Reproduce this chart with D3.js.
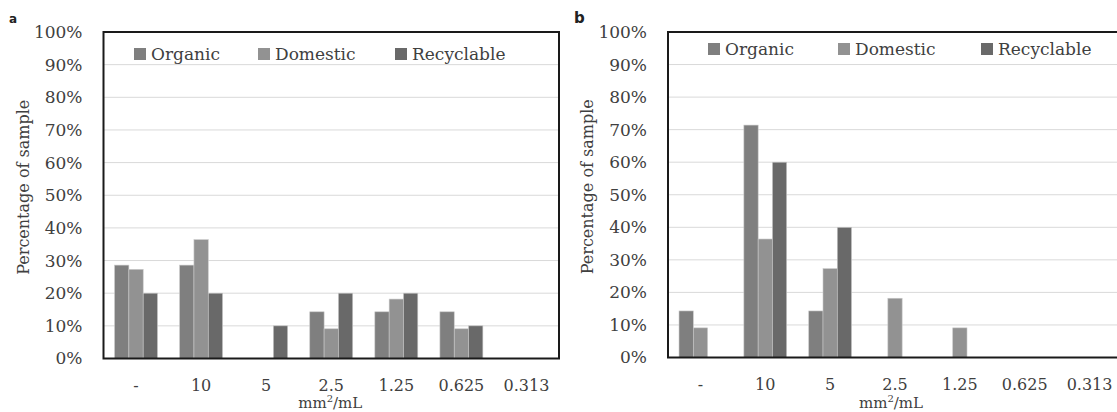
<!DOCTYPE html>
<html>
<head>
<meta charset="utf-8">
<script src="https://cdn.jsdelivr.net/npm/d3@7"></script>
<style>
  body { margin: 0; background: #fff; }
</style>
</head>
<body>
<div id="chart"></div>
<script>
const categories = ['-', '10', '5', '2.5', '1.25', '0.625', '0.313'];
const seriesNames = ['Organic', 'Domestic', 'Recyclable'];
const yTicks = [0, 10, 20, 30, 40, 50, 60, 70, 80, 90, 100];

// panel a
const organicA = [28.6, 28.6, 0, 14.3, 14.3, 14.3, 0];
const domesticA = [27.3, 36.4, 0, 9.1, 18.2, 9.1, 0];
const recyclableA = [20, 20, 10, 20, 20, 10, 0];

// panel b
const organicB = [14.3, 71.4, 14.3, 0, 0, 0, 0];
const domesticB = [9.1, 36.4, 27.3, 18.2, 9.1, 0, 0];
const recyclableB = [0, 60, 40, 0, 0, 0, 0];

const colors = ['#7f7f7f', '#929292', '#696969'];
const FONT = "'DejaVu Serif', 'Liberation Serif', serif";

const W = 1117, H = 412;
const svg = d3.select('#chart').append('svg')
  .attr('width', W)
  .attr('height', H)
  .attr('font-family', FONT);

function drawPanel(opts, series) {
  const { left, right, top, bottom, tag, tagX, legendX, legendY } = opts;

  const x = d3.scaleBand()
    .domain(categories)
    .range([left, right])
    .paddingInner(0)
    .paddingOuter(0);

  const y = d3.scaleLinear()
    .domain([0, 100])
    .range([bottom, top]);

  // gridlines
  svg.append('g')
    .selectAll('line')
    .data(yTicks.filter(d => d > 0 && d < 100))
    .enter()
    .append('line')
    .attr('x1', left)
    .attr('x2', right)
    .attr('y1', d => y(d))
    .attr('y2', d => y(d))
    .attr('stroke', '#d9d9d9')
    .attr('stroke-width', 1);

  // y axis labels
  const yAxis = svg.append('g')
    .attr('transform', `translate(${left - 14},0)`)
    .call(d3.axisLeft(y).tickValues(yTicks).tickFormat(d => d + '%').tickSize(0).tickPadding(7));
  yAxis.attr('font-family', FONT).attr('font-size', 17);
  yAxis.select('.domain').remove();
  yAxis.selectAll('text')
    .attr('fill', '#404040');

  // bars
  const groupW = x.bandwidth() * 0.66;
  const sub = d3.scaleBand()
    .domain(seriesNames)
    .range([0, groupW]);

  seriesNames.forEach((name, si) => {
    svg.append('g')
      .selectAll('rect')
      .data(series[si].map((v, i) => [categories[i], v]).filter(d => d[1] > 0))
      .enter()
      .append('rect')
      .attr('x', d => x(d[0]) + (x.bandwidth() - groupW) / 2 + sub(name))
      .attr('y', d => y(d[1]))
      .attr('width', sub.bandwidth())
      .attr('height', d => y(0) - y(d[1]))
      .attr('fill', colors[si])
      .attr('stroke', '#c8c8c8')
      .attr('stroke-width', 0.6);
  });

  // frame
  svg.append('rect')
    .attr('x', left)
    .attr('y', top)
    .attr('width', right - left)
    .attr('height', bottom - top)
    .attr('fill', 'none')
    .attr('stroke', '#1a1a1a')
    .attr('stroke-width', 2);

  // x axis labels
  const xAxis = svg.append('g')
    .attr('transform', `translate(0,${bottom})`)
    .call(d3.axisBottom(x).tickSize(0).tickPadding(0));
  xAxis.attr('font-family', FONT).attr('font-size', 16);
  xAxis.select('.domain').remove();
  xAxis.selectAll('text')
    .attr('dy', null)
    .attr('y', 32)
    .attr('fill', '#404040');

  // x title
  svg.append('text')
    .attr('x', (left + right) / 2 - 1 - (right > W ? 3 : 0))
    .attr('y', 408)
    .attr('text-anchor', 'middle')
    .attr('fill', '#404040')
    .style('font-size', '15px')
    .html('mm<tspan dy="-6" font-size="10px">2</tspan><tspan dy="6">/mL</tspan>');

  // y title
  svg.append('text')
    .attr('transform', `translate(${opts.titleX},${(top + bottom) / 2 - 8}) rotate(-90)`)
    .attr('text-anchor', 'middle')
    .attr('fill', '#404040')
    .style('font-size', '16px')
    .text('Percentage of sample');

  // panel tag
  svg.append('text')
    .attr('x', tagX)
    .attr('y', 23)
    .style('font-family', '"DejaVu Sans", sans-serif')
    .style('font-weight', 'bold')
    .style('font-size', tag === 'a' ? '12px' : '15px')
    .attr('fill', '#222')
    .text(tag);

  // legend
  const legend = svg.append('g')
    .attr('transform', `translate(${legendX},${legendY})`);
  const legendOffsets = opts.legendOffsets;
  seriesNames.forEach((name, si) => {
    const lg = legend.append('g').attr('transform', `translate(${legendOffsets[si]},0)`);
    lg.append('rect')
      .attr('x', 0)
      .attr('y', -6)
      .attr('width', 12)
      .attr('height', 12)
      .attr('fill', colors[si]);
    lg.append('text')
      .attr('x', 17)
      .attr('y', 6)
      .attr('fill', '#404040')
      .style('font-size', '17px')
      .text(name);
  });
}

drawPanel({
  left: 103.5, right: 559, top: 32, bottom: 358.5,
  tag: 'a', tagX: 9, titleX: 29,
  legendX: 134, legendY: 54, legendOffsets: [0, 124, 261]
}, [organicA, domesticA, recyclableA]);

drawPanel({
  left: 668, right: 1122, top: 32, bottom: 357.5,
  tag: 'b', tagX: 574, titleX: 593,
  legendX: 708, legendY: 49, legendOffsets: [0, 130, 273]
}, [organicB, domesticB, recyclableB]);
</script>
</body>
</html>
